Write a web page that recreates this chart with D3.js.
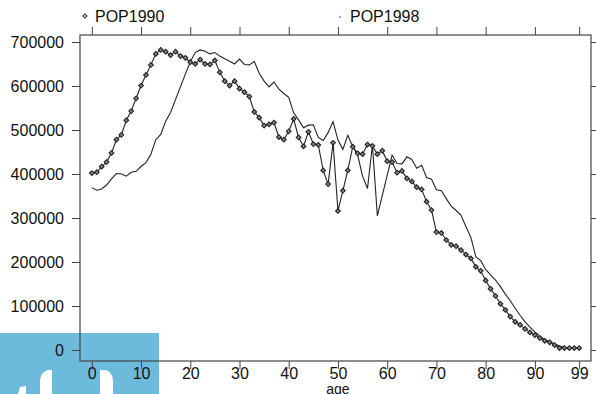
<!DOCTYPE html>
<html>
<head>
<meta charset="utf-8">
<script src="https://cdn.jsdelivr.net/npm/d3@7"></script>
<style>
  body { margin: 0; background: #fff; }
  svg { display: block; font-family: "Liberation Sans", Arial, sans-serif; }
</style>
</head>
<body>
<div id="chart"></div>
<script>
// ages 0..99
const ages = d3.range(0, 100);
const xTicks = [0, 10, 20, 30, 40, 50, 60, 70, 80, 90, 99];
const yTicks = [0, 100000, 200000, 300000, 400000, 500000, 600000, 700000];

const pop1990 = [
  402000, 404000, 417000, 427000, 448000, 478000, 489000, 522000, 543000, 572000,
  601000, 625000, 648000, 673000, 682000, 678000, 670000, 678000, 668000, 664000,
  654000, 650000, 660000, 650000, 649000, 658000, 631000, 611000, 601000, 611000,
  594000, 586000, 576000, 541000, 528000, 510000, 513000, 517000, 484000, 478000,
  497000, 525000, 483000, 463000, 496000, 468000, 466000, 408000, 377000, 471000,
  316000, 362000, 408000, 462000, 447000, 445000, 467000, 464000, 445000, 453000,
  429000, 427000, 403000, 407000, 390000, 383000, 370000, 365000, 337000, 318000,
  268000, 266000, 250000, 239000, 236000, 227000, 217000, 208000, 189000, 180000,
  158000, 139000, 123000, 105000, 91000, 76000, 64000, 57000, 48000, 40000,
  34000, 27000, 21000, 17500, 11000, 4500, 4500, 4500, 4500, 4500
];

const pop1998 = [
  369000, 363000, 366000, 375000, 389000, 401000, 400000, 395000, 404000, 406000,
  417000, 426000, 445000, 478000, 490000, 520000, 540000, 569000, 598000, 627000,
  655000, 676000, 682000, 679000, 673000, 676000, 668000, 662000, 656000, 650000,
  661000, 649000, 648000, 656000, 629000, 611000, 598000, 609000, 593000, 583000,
  574000, 539000, 523000, 505000, 511000, 512000, 483000, 476000, 494000, 519000,
  477000, 456000, 488000, 462000, 443000, 395000, 367000, 466000, 305000, 351000,
  397000, 443000, 424000, 423000, 439000, 433000, 413000, 420000, 392000, 388000,
  364000, 362000, 344000, 327000, 317000, 306000, 280000, 256000, 212000, 203000,
  183000, 171000, 159000, 144000, 127000, 112000, 95000, 79000, 64000, 52000,
  41000, 32000, 24000, 18000, 14000, 9000, 6000, 5000, 4000, 3500
];

const width = 596, height = 394;
const box = { left: 80, right: 591, top: 35, bottom: 361 };

const svg = d3.select("#chart").append("svg")
  .attr("width", width)
  .attr("height", height);

// blue overlay block sitting behind the chart (bottom left of the picture)
const badge = svg.append("g");
badge.append("rect")
  .attr("x", 0).attr("y", 333)
  .attr("width", 159).attr("height", height - 333)
  .attr("fill", "#6dbbdc");
badge.append("path")
  .attr("d", "M40,394 L40,380 Q41,372 48,370 L52,370 L52,394 Z")
  .attr("fill", "#fff");
badge.append("path")
  .attr("d", "M100,394 L100,370 L106,370 Q113,373 113,381 L113,394 Z")
  .attr("fill", "#fff");
badge.append("path")
  .attr("d", "M18,394 L20,387 L26,386 L26,394 Z")
  .attr("fill", "#fff");

const x = d3.scaleLinear().domain([-2.4, 101.4]).range([box.left, box.right]);
const y = d3.scaleLinear().domain([-25000, 715900]).range([box.bottom, box.top]);

const ink = "#222";

// axes, ticks pointing outward on all four sides
svg.append("g")
  .attr("class", "x-bottom")
  .attr("transform", `translate(0,${box.bottom})`)
  .call(d3.axisBottom(x).tickValues(xTicks).tickSize(8).tickPadding(0))
  .call(g => g.select(".domain").remove());
svg.append("g")
  .attr("transform", `translate(0,${box.top})`)
  .call(d3.axisTop(x).tickValues(xTicks).tickSize(8).tickFormat(""))
  .call(g => g.select(".domain").remove());
svg.append("g")
  .attr("transform", `translate(${box.left},0)`)
  .call(d3.axisLeft(y).tickValues(yTicks).tickSize(8).tickPadding(8).tickFormat(d3.format("d")))
  .call(g => g.select(".domain").remove());
svg.append("g")
  .attr("transform", `translate(${box.right},0)`)
  .call(d3.axisRight(y).tickValues(yTicks).tickSize(6).tickFormat(""))
  .call(g => g.select(".domain").remove());

svg.selectAll(".tick line").attr("stroke", "#444").attr("stroke-width", 1);
svg.selectAll(".tick text")
  .attr("fill", "#111")
  .style("font-size", "16px")
  .style("font-family", "'Liberation Sans', Arial, sans-serif");
svg.selectAll(".x-bottom .tick text").attr("dy", "0.6em");

svg.append("rect")
  .attr("x", box.left).attr("y", box.top)
  .attr("width", box.right - box.left).attr("height", box.bottom - box.top)
  .attr("fill", "none")
  .attr("stroke", "#444")
  .attr("stroke-width", 1.2);

svg.append("text")
  .attr("x", x(50)).attr("y", 393.5)
  .attr("text-anchor", "middle")
  .attr("fill", "#111")
  .style("font-size", "14px")
  .text("age");

const line = d3.line()
  .x((d, i) => x(ages[i]))
  .y(d => y(d));

svg.append("path")
  .datum(pop1998)
  .attr("d", line)
  .attr("fill", "none")
  .attr("stroke", ink)
  .attr("stroke-width", 1.1);

svg.append("path")
  .datum(pop1990)
  .attr("d", line)
  .attr("fill", "none")
  .attr("stroke", ink)
  .attr("stroke-width", 1.1);

// small square diamonds for POP1990
const diamond = d3.symbol().type(d3.symbolSquare).size(11);
svg.append("g")
  .selectAll("path")
  .data(pop1990)
  .join("path")
  .attr("transform", (d, i) => `translate(${x(ages[i])},${y(d)}) rotate(45)`)
  .attr("d", diamond)
  .attr("fill", "#888")
  .attr("stroke", ink)
  .attr("stroke-width", 1.1);

// legend
const legend = svg.append("g").style("font-size", "16px").attr("fill", "#111");
legend.append("path")
  .attr("transform", "translate(85,16) rotate(45)")
  .attr("d", d3.symbol().type(d3.symbolSquare).size(8))
  .attr("fill", "#fff")
  .attr("stroke", ink);
legend.append("text").attr("x", 95).attr("y", 22).text("POP1990");
legend.append("circle")
  .attr("cx", 340).attr("cy", 17).attr("r", 0.7)
  .attr("fill", ink);
legend.append("text").attr("x", 350).attr("y", 22).text("POP1998");
</script>
</body>
</html>
